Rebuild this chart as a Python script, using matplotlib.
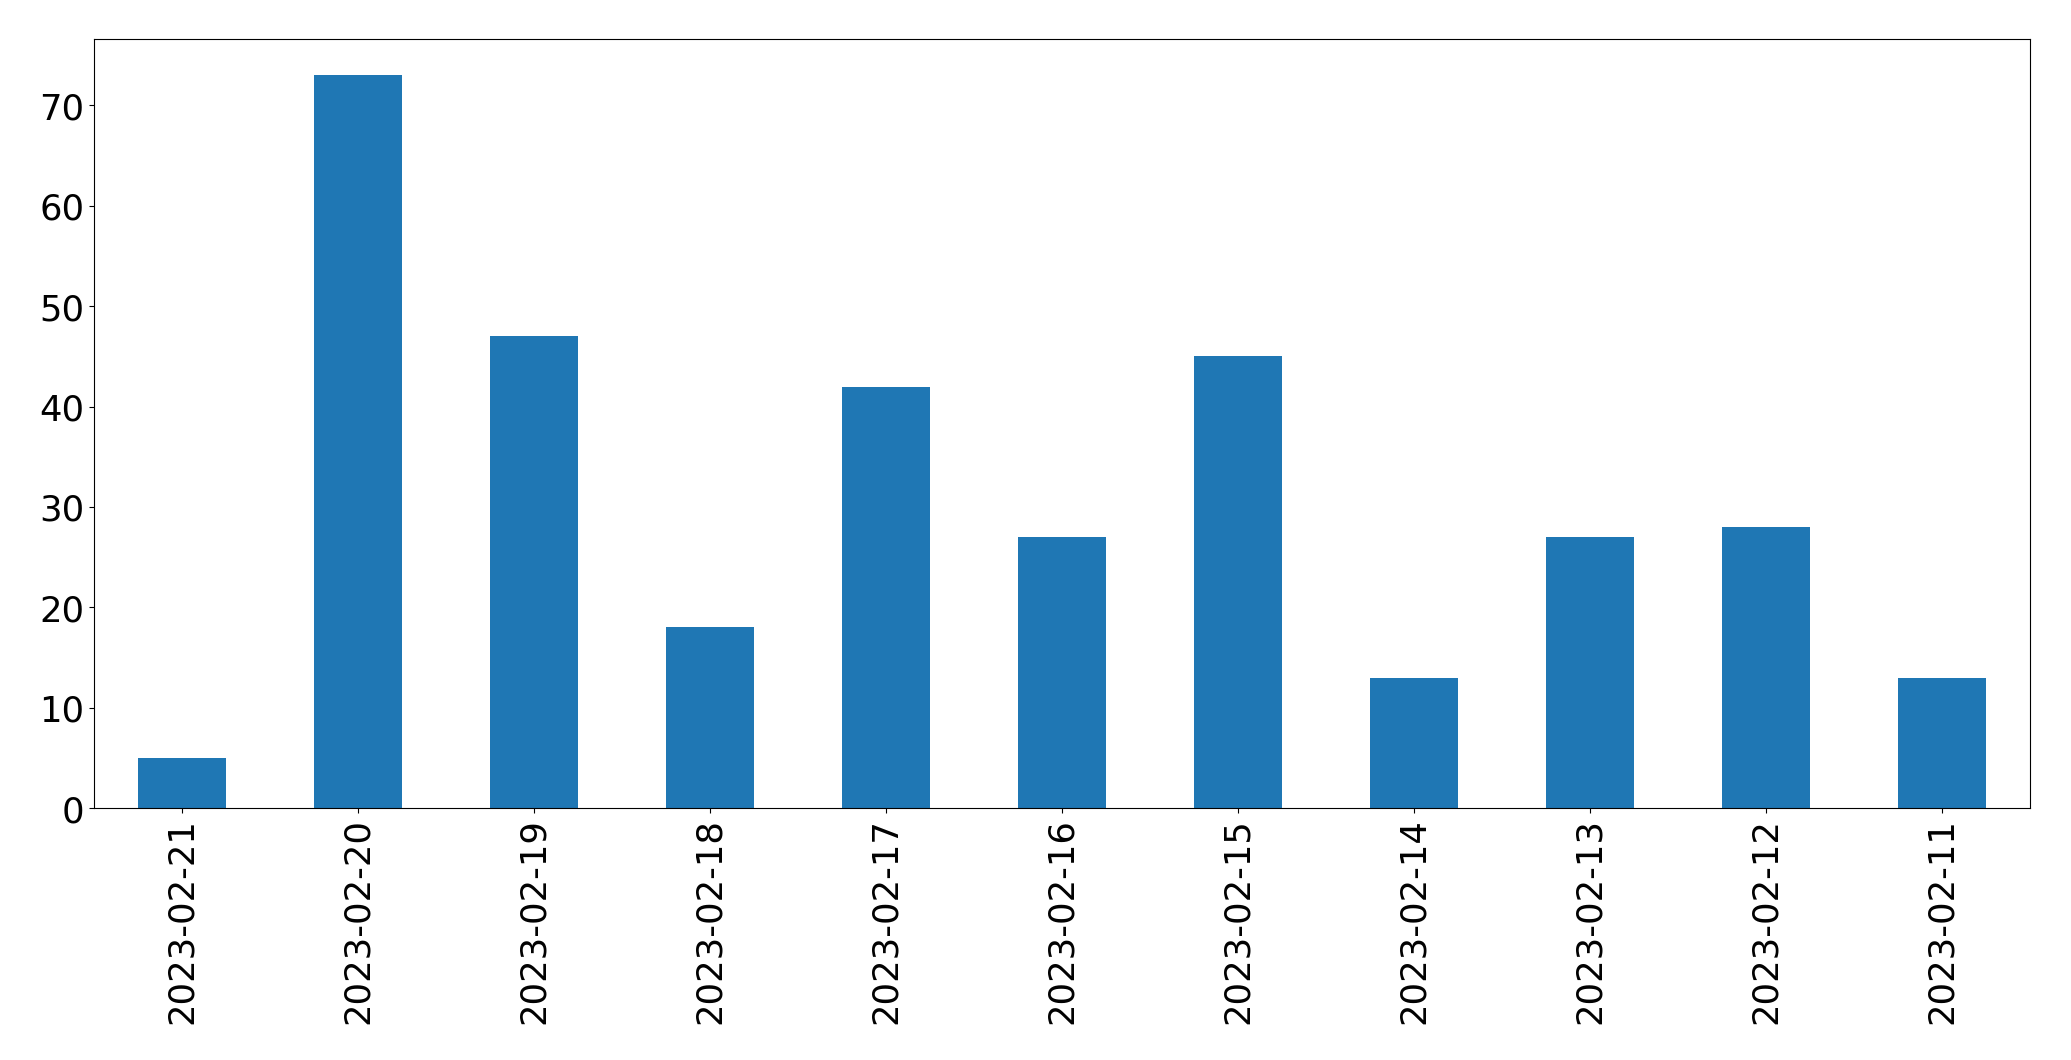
import matplotlib
matplotlib.use("Agg")
import matplotlib.pyplot as plt
import pandas as pd

dates = ['2023-02-21', '2023-02-20', '2023-02-19', '2023-02-18', '2023-02-17',
         '2023-02-16', '2023-02-15', '2023-02-14', '2023-02-13', '2023-02-12',
         '2023-02-11']
counts = [5, 73, 47, 18, 42, 27, 45, 13, 27, 28, 13]

s = pd.Series(counts, index=dates)

fig, ax = plt.subplots(figsize=(20.71, 10.605), dpi=100)
s.plot(kind='bar', ax=ax, color='#1f77b4')
ax.tick_params(axis='both', labelsize=25.5)
ax.set_xlabel('')
fig.subplots_adjust(left=0.0455, right=0.980, top=0.963, bottom=0.2375)
fig.savefig('out.png', dpi=100)
